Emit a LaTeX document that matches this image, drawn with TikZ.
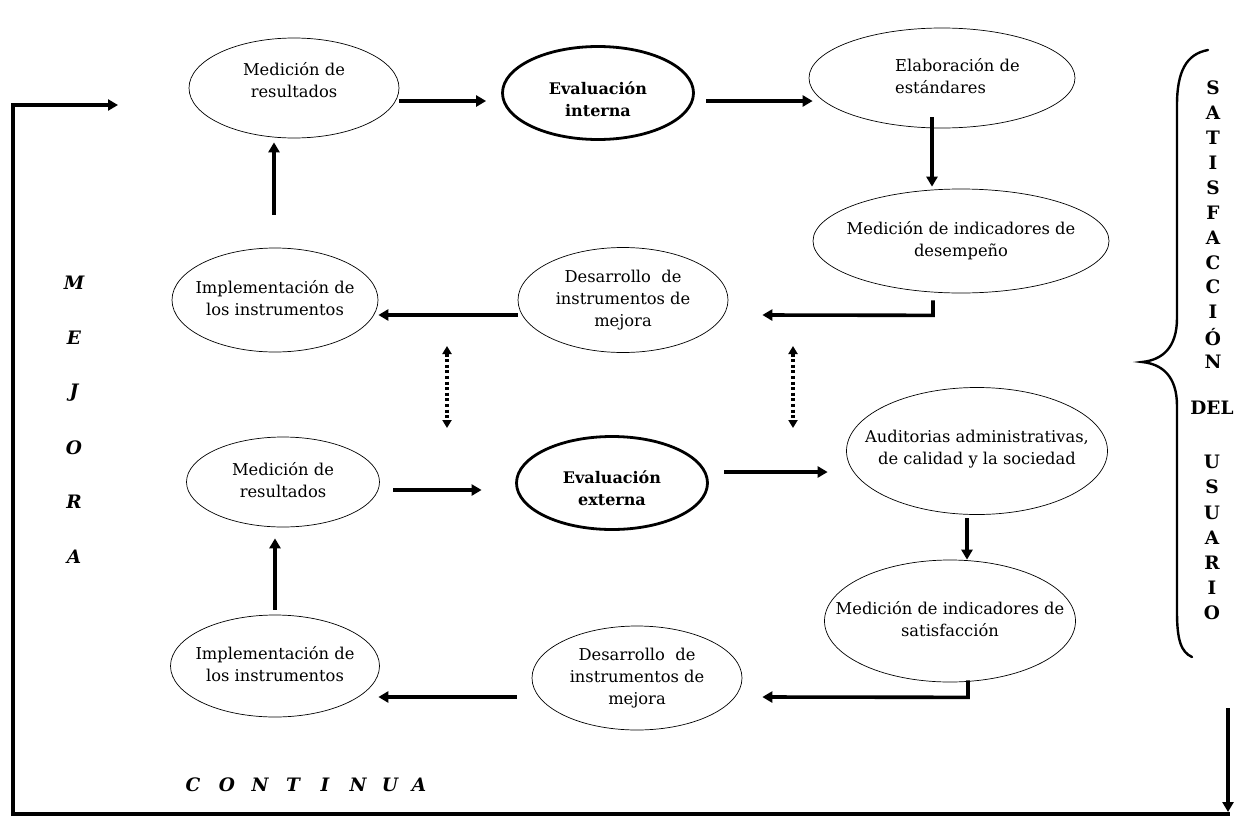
\documentclass[tikz,border=0pt]{standalone}
\usepackage{fontspec}
\setmainfont{DejaVu Serif}
\usetikzlibrary{shapes.geometric,arrows.meta,calc}
\begin{document}
\begin{tikzpicture}[x=1pt,y=-1pt,
  elli/.style={ellipse,draw,line width=0.7pt,inner sep=0pt},
  ellb/.style={ellipse,draw,line width=2.8pt,inner sep=0pt},
  txt/.style={inner sep=0pt,align=center,font=\fontsize{16.3}{22}\selectfont},
  txtb/.style={inner sep=0pt,align=center,font=\fontsize{16}{22}\selectfont\bfseries},
  arr/.style={line width=3.6pt,-{Triangle[length=10pt,width=11pt]}},
  dotarr/.style={line width=3.4pt,dash pattern=on 3pt off 2.6pt,
    {Triangle[length=8pt,width=9pt]}-{Triangle[length=8pt,width=9pt]}},
  loopline/.style={line width=3.6pt},
  brace/.style={line width=2.4pt,line cap=round},
  vlet/.style={font=\fontsize{18.5}{18.5}\selectfont\bfseries,inner sep=0pt},
  ilet/.style={font=\fontsize{18.5}{18.5}\selectfont\bfseries\itshape,inner sep=0pt}]
\useasboundingbox[fill=white] (0,0) rectangle (1243,817);

% ellipses
\node[elli,minimum width=210pt,minimum height=100pt] (mr1) at (294,88) {};
\node[ellb,minimum width=191pt,minimum height=93pt] (ei) at (598,93) {};
\node[elli,minimum width=266pt,minimum height=100pt] (el) at (942,78) {};
\node[elli,minimum width=296pt,minimum height=104pt] (dm) at (961,241) {};
\node[elli,minimum width=210pt,minimum height=105pt] (di1) at (623,300) {};
\node[elli,minimum width=206pt,minimum height=104pt] (im1) at (275,300) {};
\node[elli,minimum width=193pt,minimum height=90pt] (mr2) at (283,482) {};
\node[ellb,minimum width=191pt,minimum height=93pt] (ee) at (612,483) {};
\node[elli,minimum width=261pt,minimum height=127pt] (au) at (977,451) {};
\node[elli,minimum width=251pt,minimum height=122pt] (ms) at (950,621) {};
\node[elli,minimum width=210pt,minimum height=104pt] (di2) at (637,678) {};
\node[elli,minimum width=209pt,minimum height=102pt] (im2) at (275,666) {};

% texts
\node[txt] (mr1t) at ($(mr1)+(0,-8)$) {Medición de\\resultados};
\node[txtb] (eit) at ($(ei)+(0,6)$) {Evaluación\\interna};
\node[txt,align=left,anchor=west] (elt) at ($(el)+(-47,-2)$) {Elaboración de\\estándares};
\node[txt] (dmt) at (dm) {Medición de indicadores de\\desempeño};
\node[txt] (di1t) at (di1) {Desarrollo\ \ de\\instrumentos de\\mejora};
\node[txt] (im1t) at ($(im1)+(0,-2)$) {Implementación de\\los instrumentos};
\node[txt] (mr2t) at ($(mr2)+(0,-2)$) {Medición de\\resultados};
\node[txtb] (eet) at ($(ee)+(0,5)$) {Evaluación\\externa};
\node[txt] (aut) at ($(au)+(0,-2)$) {Auditorias administrativas,\\de calidad y la sociedad};
\node[txt] (mst) at ($(ms)+(0,-2)$) {Medición de indicadores de\\satisfacción};
\node[txt] (di2t) at (di2) {Desarrollo\ \ de\\instrumentos de\\mejora};
\node[txt] (im2t) at ($(im2)+(0,-2)$) {Implementación de\\los instrumentos};

% upper cycle
\draw[arr] ($(mr1.east)+(0,13)$) -- ($(ei.west)+(-15,8)$);
\draw[arr] ($(ei.east)+(11.5,8)$) -- ($(el.west)+(4,23)$);
\draw[arr] ($(el.south)+(-10,-11)$) -- ($(dm.north)+(-29,-2)$);
\draw[arr] ($(dm.south)+(-28,7)$) -- ($(dm.south)+(-28,22)$) -- ($(di1.east)+(34,15)$);
\draw[arr] ($(di1.west)+(0,15)$) -- ($(im1.east)+(0,15)$);
\draw[arr] ($(im1.north)+(-1,-33)$) -- ($(mr1.south)+(-20,4)$);

% lower cycle
\draw[arr] ($(mr2.east)+(13.5,8)$) -- ($(ee.west)+(-33.5,7)$);
\draw[arr] ($(ee.east)+(15.5,-11)$) -- ($(au.west)+(-18.5,21)$);
\draw[arr] ($(au.south)+(-10,3.5)$) -- ($(ms.north)+(17,0)$);
\draw[arr] ($(ms.south)+(18,-2)$) -- ($(ms.south)+(18,15)$) -- ($(di2.east)+(20,19)$);
\draw[arr] ($(di2.west)+(-15,19)$) -- ($(im2.east)+(-1.5,31)$);
\draw[arr] ($(im2.north)+(0,-5)$) -- ($(mr2.south)+(-8,11)$);

% dotted links between the cycles
\coordinate (d1a) at (447,346);
\coordinate (d1b) at (447,428);
\coordinate (d2a) at (793,346);
\coordinate (d2b) at (793,428);
\draw[dotarr] (d1a) -- (d1b);
\draw[dotarr] (d2a) -- (d2b);

% big loop
\coordinate (ra) at (1228,708);
\coordinate (rb) at (1228,812);
\coordinate (bl) at (13,814);
\coordinate (tl) at (13,105);
\coordinate (te) at (118,105);
\draw[arr] (ra) -- (rb);
\draw[loopline,-{Triangle[length=10pt,width=11pt]}] (1229.8,814) -- (bl) -- (tl) -- (te);

% brace
\draw[brace] (1208,50) .. controls (1186,54) and (1177,72) .. (1177,105) -- (1177,318)
  .. controls (1177,348) and (1162,360) .. (1142,362)
  .. controls (1162,364) and (1177,376) .. (1177,406) -- (1177,612)
  .. controls (1177,640) and (1181,652) .. (1192,657);

% SATISFACCION DEL USUARIO
\foreach \l [count=\i from 0] in {S,A,T,I,S,F,A,C,C,I,Ó,N} {
  \node[vlet] (s\i) at (1213,88+24.9*\i) {\l};
}
\node[vlet] (del) at (1212,408) {DEL};
\foreach \l [count=\i from 0] in {U,S,U,A,R,I,O} {
  \node[vlet] (u\i) at (1212,462+25.2*\i) {\l};
}

% MEJORA
\foreach \l [count=\i from 0] in {M,E,J,O,R,A} {
  \node[ilet] (m\i) at (74,283+54.8*\i) {\l};
}
% CONTINUA
\foreach \l/\x [count=\i from 0] in {C/193,O/227,N/260,T/293,I/325,N/358,U/390,A/419} {
  \node[ilet] (c\i) at (\x,785) {\l};
}
\end{tikzpicture}
\end{document}
